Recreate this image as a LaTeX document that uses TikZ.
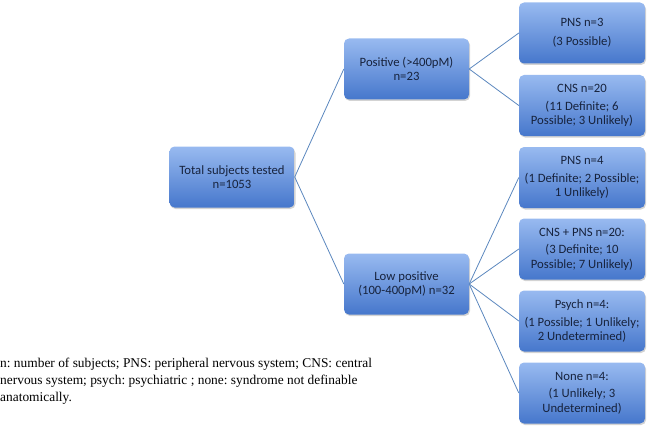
\documentclass[tikz,border=0pt]{standalone}
\usepackage{fontspec}
\setmainfont{Carlito}
\newfontfamily\capfont{Liberation Serif}
\usetikzlibrary{shadows}
\definecolor{boxtop}{HTML}{98BAF0}
\definecolor{boxbot}{HTML}{4677CC}
\definecolor{txt}{HTML}{17233D}
\definecolor{linec}{HTML}{5B87BE}
\tikzset{
  box/.style={rounded corners=5pt, top color=boxtop, bottom color=boxbot,
    draw=none, minimum width=#1, minimum height=61pt, align=center,
    text=txt, font=\fontsize{12.7}{14.5}\selectfont, inner sep=1pt,
    drop shadow={shadow xshift=1pt, shadow yshift=-1.5pt, opacity=0.35}},
  box/.default=125pt,
  conn/.style={draw=linec, line width=0.8pt}
}
\begin{document}
\frenchspacing
\begin{tikzpicture}[x=1pt,y=1pt]
\useasboundingbox (0,0) rectangle (650,432);
\node[box] (tot) at (232,255) {Total subjects tested\\n=1053};
\node[box] (pos) at (406.5,363) {Positive (>400pM)\\n=23};
\node[box] (low) at (406.5,148) {Low positive\\(100-400pM) n=32};
\node[box=126pt] (r1) at (582,399) {PNS n=3\\[4pt](3 Possible)};
\node[box=126pt] (r2) at (582,326.5) {CNS n=20\\[3pt](11 Definite; 6\\Possible; 3 Unlikely)};
\node[box=126pt] (r3) at (582,254.5) {PNS n=4\\[3pt](1 Definite; 2 Possible;\\1 Unlikely)};
\node[box=126pt] (r4) at (582,183) {CNS + PNS n=20:\\[3pt](3 Definite; 10\\Possible; 7 Unlikely)};
\node[box=126pt] (r5) at (582,111) {Psych n=4:\\[3pt](1 Possible; 1 Unlikely;\\2 Undetermined)};
\node[box=126pt] (r6) at (582,39) {None n=4:\\[3pt](1 Unlikely; 3\\Undetermined)};
\draw[conn] (tot.east) -- (pos.west);
\draw[conn] (tot.east) -- (low.west);
\draw[conn] (pos.east) -- (r1.west);
\draw[conn] (pos.east) -- (r2.west);
\draw[conn] (low.east) -- (r3.west);
\draw[conn] (low.east) -- (r4.west);
\draw[conn] (low.east) -- (r5.west);
\draw[conn] (low.east) -- (r6.west);
\node[anchor=north west, align=left, inner sep=0pt,
  font=\capfont\fontsize{13.4}{17}\selectfont] (cap) at (0,74)
  {n: number of subjects; PNS: peripheral nervous system; CNS: central\\
   nervous system; psych: psychiatric ; none: syndrome not definable\\
   anatomically.};
\end{tikzpicture}
\end{document}
